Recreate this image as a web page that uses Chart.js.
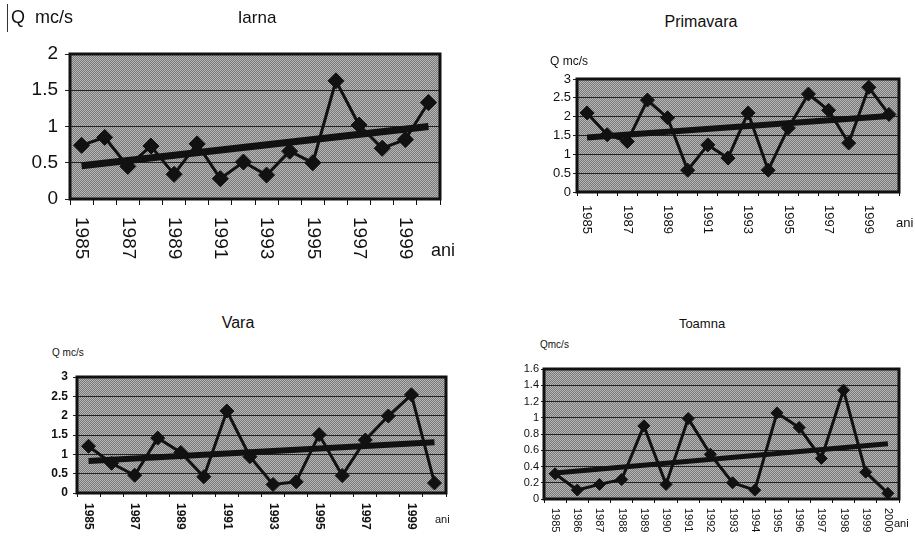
<!DOCTYPE html>
<html>
<head>
<meta charset="utf-8">
<script src="https://cdn.jsdelivr.net/npm/chart.js@4"></script>
<style>
  html, body { margin: 0; padding: 0; background: #fff; }
  #page { position: relative; width: 915px; height: 539px; overflow: hidden;
          font-family: "Liberation Sans", Arial, sans-serif; color: #111; }
  canvas { position: absolute; }
  .t { position: absolute; white-space: pre; line-height: 1; }
  .c { transform: translate(-50%, -50%); }
  .l { transform: translateY(-50%); }
</style>
</head>
<body>
<div id="page">
  <canvas id="c1"></canvas>
  <canvas id="c2"></canvas>
  <canvas id="c3"></canvas>
  <canvas id="c4"></canvas>

  <div style="position:absolute;left:7px;top:4px;width:1px;height:28px;background:#333"></div>
  <div class="t l" style="left:11px;top:17px;font-size:18px">Q  mc/s</div>
  <div class="t c" style="left:257px;top:17px;font-size:17px">Iarna</div>
  <div class="t l" style="left:431px;top:250px;font-size:18px">ani</div>

  <div class="t c" style="left:701px;top:22px;font-size:16px">Primavara</div>
  <div class="t l" style="left:550px;top:61px;font-size:12px">Q mc/s</div>
  <div class="t l" style="left:896px;top:222px;font-size:13px">ani</div>

  <div class="t c" style="left:238px;top:323px;font-size:16px">Vara</div>
  <div class="t l" style="left:52px;top:353px;font-size:10px">Q mc/s</div>
  <div class="t l" style="left:435px;top:519px;font-size:11px">ani</div>

  <div class="t c" style="left:702px;top:323px;font-size:13px">Toamna</div>
  <div class="t l" style="left:540px;top:345px;font-size:10px">Qmc/s</div>
  <div class="t l" style="left:894px;top:523px;font-size:11px">ani</div>
</div>

<script>
'use strict';

/* ── Data (debit mediu sezonier, Q mc/s) ─────────────────── */
const years = ['1985', '1986', '1987', '1988', '1989', '1990', '1991', '1992',
               '1993', '1994', '1995', '1996', '1997', '1998', '1999', '2000'];

// x tick labels as printed: odd years only on three panels, every year on Toamna
const oddYearLabels = ['1985', '', '1987', '', '1989', '', '1991', '',
                       '1993', '', '1995', '', '1997', '', '1999', ''];
const allYearLabels = years;

const iarnaQ     = [0.74, 0.85, 0.45, 0.73, 0.34, 0.76, 0.28, 0.51, 0.33, 0.66, 0.50, 1.63, 1.02, 0.70, 0.82, 1.33];
const primavaraQ = [2.10, 1.52, 1.34, 2.44, 1.97, 0.58, 1.25, 0.90, 2.10, 0.58, 1.70, 2.60, 2.17, 1.30, 2.78, 2.06];
const varaQ      = [1.21, 0.77, 0.46, 1.42, 1.05, 0.42, 2.12, 0.94, 0.22, 0.29, 1.51, 0.45, 1.37, 1.99, 2.54, 0.26];
const toamnaQ    = [0.31, 0.11, 0.18, 0.24, 0.90, 0.18, 0.99, 0.55, 0.20, 0.11, 1.06, 0.88, 0.50, 1.34, 0.33, 0.07];

// linear trend, value at first and last year
const iarnaTrend     = [0.46, 1.00];
const primavaraTrend = [1.45, 2.02];
const varaTrend      = [0.83, 1.31];
const toamnaTrend    = [0.32, 0.68];

const FONT = '"Liberation Sans", Arial, sans-serif';
const INK  = '#111';

/* ── Stippled gray plot fill (like the scanned Excel chart) ─ */
function makeStipple() {
  const c = document.createElement('canvas');
  c.width = 2; c.height = 2;
  const g = c.getContext('2d');
  g.fillStyle = '#b6b6b6'; g.fillRect(0, 0, 2, 2);
  g.fillStyle = '#7a7a7a'; g.fillRect(1, 0, 1, 1); g.fillRect(0, 1, 1, 1);
  return c;
}
const stipple = makeStipple();

// Background, thick frame and downward-reading year labels
const plotFrame = {
  id: 'plotFrame',
  beforeDraw(ch) {
    const a = ch.chartArea, ctx = ch.ctx;
    ctx.save();
    ctx.fillStyle = ctx.createPattern(stipple, 'repeat');
    ctx.fillRect(a.left, a.top, a.right - a.left, a.bottom - a.top);
    ctx.restore();
  },
  beforeDatasetsDraw(ch, args, opts) {
    const a = ch.chartArea, ctx = ch.ctx;
    ctx.save();
    ctx.strokeStyle = INK;
    ctx.lineWidth = opts.frameW;
    ctx.strokeRect(a.left, a.top, a.right - a.left, a.bottom - a.top);
    ctx.restore();
  },
  afterDraw(ch, args, opts) {
    const xs = ch.scales.x, ctx = ch.ctx;
    ctx.save();
    ctx.fillStyle = INK;
    ctx.font = `${opts.xBold ? 'bold ' : ''}${opts.xFont}px ${FONT}`;
    ctx.textAlign = 'left';
    ctx.textBaseline = 'middle';
    opts.labels.forEach((lab, i) => {
      if (!lab) return;
      ctx.save();
      ctx.translate(xs.getPixelForValue(i), ch.chartArea.bottom + opts.xGap);
      ctx.rotate(Math.PI / 2);
      ctx.fillText(lab, 0, 0);
      ctx.restore();
    });
    ctx.restore();
  }
};

/* ── Panels ─────────────────────────────────────────────── */
const panels = [
  { id: 'c1', box: { left: 0, top: 30, w: 462, h: 240 }, plot: { x0: 70, x1: 440, y0: 54, y1: 199 },
    values: iarnaQ, trend: iarnaTrend, labels: oddYearLabels,
    yMax: 2, yStep: 0.5, yFont: 19, yBold: false, yTick: 5, yPad: 7,
    xFont: 19, xBold: false, xGap: 18, xTick: 6, marker: 8, lineW: 3, trendW: 7, frameW: 3 },
  { id: 'c2', box: { left: 530, top: 60, w: 385, h: 180 }, plot: { x0: 577, x1: 899, y0: 79, y1: 192 },
    values: primavaraQ, trend: primavaraTrend, labels: oddYearLabels,
    yMax: 3, yStep: 0.5, yFont: 13, yBold: false, yTick: 4, yPad: 2,
    xFont: 13, xBold: false, xGap: 13, xTick: 4, marker: 7, lineW: 3, trendW: 6, frameW: 3 },
  { id: 'c3', box: { left: 0, top: 360, w: 470, h: 179 }, plot: { x0: 77, x1: 446, y0: 377, y1: 493 },
    values: varaQ, trend: varaTrend, labels: oddYearLabels,
    yMax: 3, yStep: 0.5, yFont: 12, yBold: true, yTick: 4, yPad: 5,
    xFont: 12, xBold: true, xGap: 10, xTick: 4, marker: 7, lineW: 3, trendW: 6, frameW: 3 },
  { id: 'c4', box: { left: 495, top: 355, w: 420, h: 184 }, plot: { x0: 544, x1: 899, y0: 369, y1: 499 },
    values: toamnaQ, trend: toamnaTrend, labels: allYearLabels,
    yMax: 1.6, yStep: 0.2, yFont: 11, yBold: false, yTick: 3, yPad: 2,
    xFont: 11, xBold: false, xGap: 9, xTick: 4, marker: 6, lineW: 3, trendW: 5, frameW: 3 },
];

function buildPanel(p) {
  const cv = document.getElementById(p.id);
  const b = p.box, q = p.plot;
  cv.width = b.w; cv.height = b.h;
  cv.style.left = b.left + 'px'; cv.style.top = b.top + 'px';
  cv.style.width = b.w + 'px'; cv.style.height = b.h + 'px';

  const trendPts = [
    { x: years[0], y: p.trend[0] },
    { x: years[years.length - 1], y: p.trend[1] }
  ];

  new Chart(cv, {
    type: 'line',
    data: {
      labels: years,
      datasets: [
        { label: 'Q', data: p.values, order: 1,
          borderColor: INK, borderWidth: p.lineW, tension: 0,
          pointStyle: 'rectRot', pointRadius: p.marker,
          pointBackgroundColor: INK, pointBorderColor: INK, pointBorderWidth: 1 },
        { label: 'trend', data: trendPts, order: 2,
          borderColor: INK, borderWidth: p.trendW, borderCapStyle: 'butt',
          pointRadius: 0, tension: 0 }
      ]
    },
    plugins: [plotFrame],
    options: {
      responsive: false,
      animation: false,
      events: [],
      layout: { padding: { top: q.y0 - b.top, right: b.left + b.w - q.x1, bottom: 0, left: 0 } },
      plugins: {
        legend: { display: false },
        tooltip: { enabled: false },
        plotFrame: { labels: p.labels, xFont: p.xFont, xBold: p.xBold, xGap: p.xGap, frameW: p.frameW }
      },
      scales: {
        x: {
          offset: true,
          border: { display: false },
          grid: { offset: true, drawOnChartArea: false, drawTicks: true, tickLength: p.xTick, color: INK, lineWidth: 1 },
          ticks: { display: false },
          afterFit: s => { s.height = b.top + b.h - q.y1; }
        },
        y: {
          min: 0, max: p.yMax,
          border: { display: false },
          grid: { color: '#222', lineWidth: 1, drawTicks: true, tickLength: p.yTick },
          ticks: {
            stepSize: p.yStep, color: INK, padding: p.yPad,
            font: { size: p.yFont, family: FONT, weight: p.yBold ? 'bold' : 'normal' },
            callback: v => String(Math.round(v * 10) / 10)
          },
          afterFit: s => { s.width = q.x0 - b.left; }
        }
      }
    }
  });
}

panels.forEach(buildPanel);
</script>
</body>
</html>
